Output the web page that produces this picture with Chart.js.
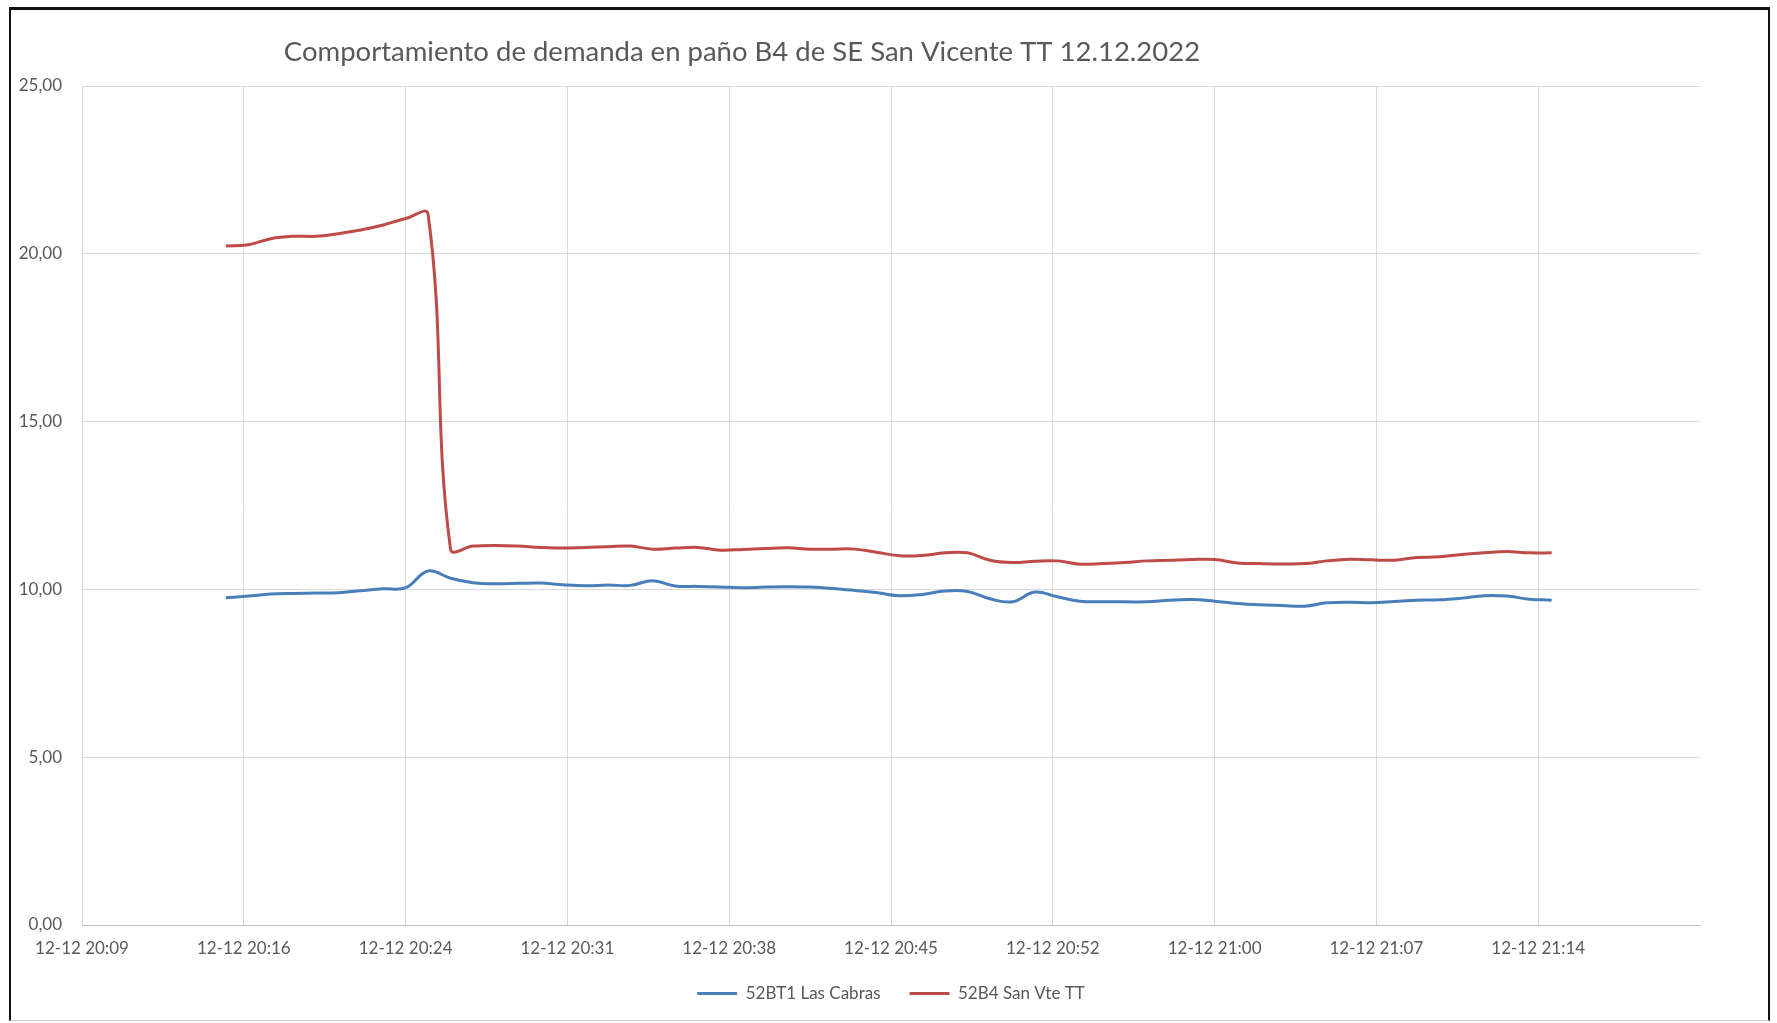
<!DOCTYPE html>
<html>
<head>
<meta charset="utf-8">
<script src="https://cdn.jsdelivr.net/npm/chart.js@4.4.1/dist/chart.umd.min.js"></script>
<style>
  html, body { margin: 0; padding: 0; background: #fff; }
  #wrap { position: relative; width: 1777px; height: 1023px; }
  #frame {
    position: absolute; left: 9px; top: 7px; width: 1757px; height: 1010px;
    border-top: 3px solid #111; border-left: 2px solid #111; border-right: 2px solid #111;
    border-bottom: 1px solid #d0d0d0; pointer-events: none;
  }
</style>
</head>
<body>
<div id="wrap">
  <canvas id="chart" width="1777" height="1023"></canvas>
  <div id="frame"></div>
</div>
<script>
const chartTitle = "Comportamiento de demanda en paño B4 de SE San Vicente TT 12.12.2022";

// one reading per minute, 12-12-2022
const times = [
  "20:16", "20:17", "20:18", "20:19", "20:20", "20:21", "20:22", "20:23", "20:24", "20:25",
  "20:26", "20:27", "20:28", "20:29", "20:30", "20:31", "20:32", "20:33", "20:34", "20:35",
  "20:36", "20:37", "20:38", "20:39", "20:40", "20:41", "20:42", "20:43", "20:44", "20:45",
  "20:46", "20:47", "20:48", "20:49", "20:50", "20:51", "20:52", "20:53", "20:54", "20:55",
  "20:56", "20:57", "20:58", "20:59", "21:00", "21:01", "21:02", "21:03", "21:04", "21:05",
  "21:06", "21:07", "21:08", "21:09", "21:10", "21:11", "21:12", "21:13", "21:14", "21:15"
];

const lasCabras = [
  9.75, 9.80, 9.86, 9.88, 9.89, 9.90, 9.96, 10.02, 10.05, 10.55,
  10.33, 10.20, 10.17, 10.18, 10.19, 10.14, 10.11, 10.13, 10.12, 10.26,
  10.10, 10.09, 10.07, 10.05, 10.07, 10.08, 10.07, 10.03, 9.97, 9.90,
  9.81, 9.85, 9.95, 9.94, 9.72, 9.63, 9.92, 9.78, 9.65, 9.63,
  9.63, 9.63, 9.68, 9.70, 9.65, 9.58, 9.54, 9.52, 9.50, 9.60,
  9.62, 9.60, 9.64, 9.68, 9.69, 9.74, 9.81, 9.80, 9.71, 9.68
];

const sanVte = [
  20.23, 20.27, 20.45, 20.52, 20.52, 20.60, 20.71, 20.86, 21.05, 21.18,
  11.20, 11.29, 11.31, 11.29, 11.25, 11.23, 11.25, 11.27, 11.29, 11.20,
  11.23, 11.25, 11.17, 11.19, 11.22, 11.24, 11.20, 11.20, 11.20, 11.10,
  11.00, 11.01, 11.09, 11.09, 10.87, 10.80, 10.84, 10.85, 10.75, 10.77,
  10.80, 10.85, 10.87, 10.89, 10.89, 10.79, 10.77, 10.76, 10.77, 10.85,
  10.90, 10.88, 10.87, 10.95, 10.97, 11.04, 11.09, 11.13, 11.09, 11.09
];

// Excel date axis: major unit 0.005 day (7.2 min), last tick has no label
const xTickLabels = [
  "12-12 20:09", "12-12 20:16", "12-12 20:24", "12-12 20:31", "12-12 20:38",
  "12-12 20:45", "12-12 20:52", "12-12 21:00", "12-12 21:07", "12-12 21:14", ""
];
const yTickLabels = ["0,00", "5,00", "10,00", "15,00", "20,00", "25,00"];

const seriesNames = ["52BT1 Las Cabras", "52B4 San Vte TT"];
const seriesColors = ["#4A7EBB", "#BE4B48"];

// minutes after 20:00
const toMin = s => { const [h, m] = s.split(":").map(Number); return (h - 20) * 60 + m; };
const axisMin = 9.6, axisMax = 81.6, axisStep = 7.2;

const font = "Lato, 'Open Sans', sans-serif";
const textColor = "#595959";

const titlePlugin = {
  id: "fixedTitle",
  afterDraw(chart) {
    const ctx = chart.ctx;
    ctx.save();
    ctx.font = "27.5px " + font;
    ctx.fillStyle = textColor;
    ctx.textAlign = "center";
    ctx.textBaseline = "middle";
    ctx.fillText(chartTitle, 742, 52);
    ctx.restore();
  }
};

const toPoints = vals => vals.map((v, i) => ({ x: toMin(times[i]), y: v }));

new Chart(document.getElementById("chart").getContext("2d"), {
  type: "line",
  data: {
    datasets: [
      { label: seriesNames[0], data: toPoints(lasCabras), borderColor: seriesColors[0], backgroundColor: seriesColors[0] },
      { label: seriesNames[1], data: toPoints(sanVte), borderColor: seriesColors[1], backgroundColor: seriesColors[1] },
    ],
  },
  options: {
    responsive: false,
    animation: false,
    devicePixelRatio: 1,
    elements: {
      line: { borderWidth: 3, tension: 0.4, fill: false },
      point: { radius: 0 },
    },
    // left/right padding chosen so the legend centres under the plot
    layout: { padding: { top: 86, left: 19, right: 14, bottom: 11 } },
    plugins: {
      tooltip: { enabled: false },
      legend: {
        position: "bottom",
        labels: {
          color: textColor,
          font: { family: font, size: 17 },
          boxWidth: 40,
          boxHeight: 3,
          padding: 29,
          generateLabels(chart) {
            const items = Chart.defaults.plugins.legend.labels.generateLabels(chart);
            items.forEach(it => { it.lineWidth = 0; it.strokeStyle = "rgba(0,0,0,0)"; });
            return items;
          },
        },
      },
    },
    scales: {
      x: {
        type: "linear",
        min: axisMin,
        max: axisMax,
        afterFit(scale) { scale.height = 31; },
        ticks: {
          stepSize: axisStep,
          autoSkip: false,
          maxRotation: 0,
          padding: 13,
          color: textColor,
          font: { family: font, size: 17 },
          callback: (v, i) => xTickLabels[i] ?? "",
        },
        grid: {
          drawTicks: false,
          color: ctx => (ctx.index === xTickLabels.length - 1 ? "rgba(0,0,0,0)" : "#d9d9d9"),
        },
        border: { color: "#bfbfbf", width: 1 },
      },
      y: {
        min: 0,
        max: 25,
        afterFit(scale) { scale.width = 63; },
        ticks: {
          stepSize: 5,
          padding: 20,
          color: textColor,
          font: { family: font, size: 17 },
          callback: (v, i) => yTickLabels[i] ?? "",
        },
        grid: { drawTicks: false, color: "#d9d9d9" },
        border: { display: false },
      },
      // empty spacer on the right
      yRight: {
        position: "right",
        display: true,
        min: 0,
        max: 25,
        afterFit(scale) { scale.width = 63; },
        ticks: { display: false },
        grid: { display: false, drawTicks: false },
        border: { display: false },
      },
    },
  },
  plugins: [titlePlugin],
});
</script>
</body>
</html>
